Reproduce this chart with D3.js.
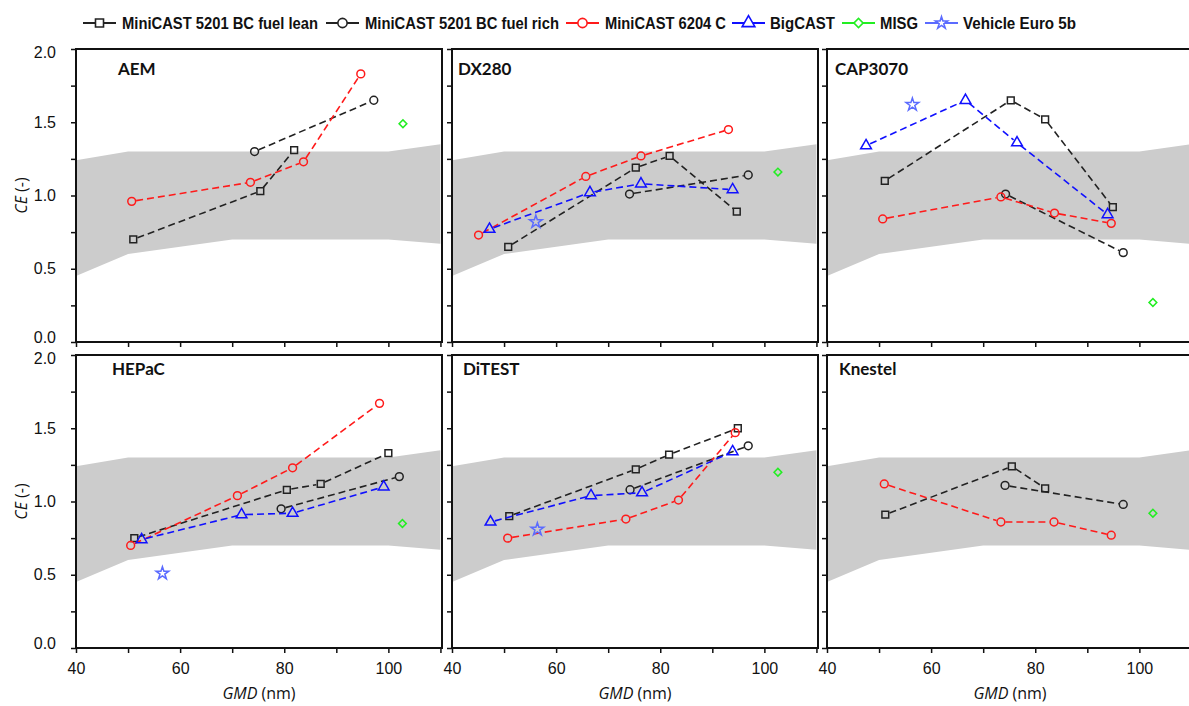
<!DOCTYPE html>
<html>
<head>
<meta charset="utf-8">
<script src="https://cdn.jsdelivr.net/npm/d3@7"></script>
<style>
  body { margin: 0; background: #fff; }
  svg { display: block; }
</style>
</head>
<body>
<div id="chart"></div>
<script>
// panels (instruments)
const panelNames = ["AEM", "DX280", "CAP3070", "HEPaC", "DiTEST", "Knestel"];

// GMD (nm) / CE (-) per panel
const leanX = [[51.0, 75.4, 81.9], [50.8, 75.3, 81.8, 94.7], [51.1, 75.3, 81.9, 94.9], [51.2, 80.5, 87.0, 100.0], [51.0, 75.3, 81.7, 94.9], [51.2, 75.5, 81.9]];
const leanY = [[0.70, 1.03, 1.31], [0.65, 1.19, 1.27, 0.89], [1.10, 1.65, 1.52, 0.92], [0.75, 1.08, 1.12, 1.33], [0.90, 1.22, 1.32, 1.50], [0.91, 1.24, 1.09]];

const richX = [[74.3, 97.2], [74.1, 96.9], [74.3, 96.9], [79.4, 102.1], [74.2, 96.9], [74.2, 96.9]];
const richY = [[1.30, 1.65], [1.01, 1.14], [1.01, 0.61], [0.95, 1.17], [1.08, 1.38], [1.11, 0.98]];

const c6204X = [[50.7, 73.5, 83.7, 94.7], [45.1, 65.7, 76.3, 93.1], [50.7, 73.4, 83.7, 94.6], [50.5, 71.0, 81.6, 98.3], [50.7, 73.4, 83.5, 94.4], [51.0, 73.4, 83.6, 94.6]];
const c6204Y = [[0.96, 1.09, 1.23, 1.83], [0.73, 1.13, 1.27, 1.45], [0.84, 0.99, 0.88, 0.81], [0.70, 1.04, 1.23, 1.67], [0.75, 0.88, 1.01, 1.47], [1.12, 0.86, 0.86, 0.77]];

const bigX = [[], [47.2, 66.5, 76.3, 93.9], [47.5, 66.6, 76.5, 93.9], [52.6, 71.8, 81.6, 99.1], [47.4, 66.7, 76.5, 93.9], []];
const bigY = [[], [0.77, 1.02, 1.08, 1.04], [1.34, 1.65, 1.36, 0.87], [0.74, 0.91, 0.92, 1.10], [0.86, 1.04, 1.06, 1.34], []];

const misgX = [[102.8], [102.6], [102.6], [102.7], [102.6], [102.6]];
const misgY = [[1.49], [1.16], [0.27], [0.85], [1.20], [0.92]];

const euroX = [[], [56.1], [56.4], [56.6], [56.4], []];
const euroY = [[], [0.82], [1.62], [0.51], [0.81], []];

// grey reference band
const bandX = [40, 50, 70, 100, 110];
const bandHi = [1.24, 1.30, 1.30, 1.30, 1.35];
const bandLo = [0.45, 0.60, 0.70, 0.70, 0.67];

const yTicks = [0, 0.25, 0.5, 0.75, 1, 1.25, 1.5, 1.75, 2];
const xTicks = [40, 50, 60, 70, 80, 90, 100, 110];

const series = [
  {name: "MiniCAST 5201 BC fuel lean", xs: leanX, ys: leanY, color: "#222", sym: d3.symbolSquare, size: 46, rot: 0, line: true},
  {name: "MiniCAST 5201 BC fuel rich", xs: richX, ys: richY, color: "#222", sym: d3.symbolCircle, size: 48, rot: 0, line: true},
  {name: "MiniCAST 6204 C", xs: c6204X, ys: c6204Y, color: "#ff1a1a", sym: d3.symbolCircle, size: 48, rot: 0, line: true},
  {name: "BigCAST", xs: bigX, ys: bigY, color: "#1010ff", sym: d3.symbolTriangle, size: 50, rot: 0, line: true},
  {name: "MISG", xs: misgX, ys: misgY, color: "#22ee22", sym: d3.symbolSquare, size: 30, rot: 45, line: false},
  {name: "Vehicle Euro 5b", xs: euroX, ys: euroY, color: "#5b6bff", sym: d3.symbolStar, size: 50, rot: 0, line: false}
];

const W = 1189, H = 706;
const colX = [76, 452, 827], rowY = [49, 355];
const pw = 366, ph = 293;

const svg = d3.select("#chart").append("svg")
  .attr("width", W).attr("height", H);

const x = d3.scaleLinear().domain([40, 110.3]).range([0, pw]);
const y = d3.scaleLinear().domain([0, 2]).range([ph, 0]);

const band = d3.area()
  .x((d, i) => x(bandX[i]))
  .y0((d, i) => y(bandLo[i]))
  .y1((d, i) => y(bandHi[i]));

panelNames.forEach((pname, p) => {
  const col = p % 3, row = Math.floor(p / 3);
  const g = svg.append("g")
    .attr("transform", `translate(${colX[col]},${rowY[row]})`);

  g.append("path")
    .datum(bandX)
    .attr("d", band)
    .attr("fill", "#cccccc");

  // axes
  const yAxis = d3.axisLeft(y).tickValues(yTicks).tickSize(5).tickPadding(15)
    .tickFormat(d => (col === 0 && (d * 4) % 2 === 0) ? d.toFixed(1) : "");
  const ya = g.append("g").call(yAxis);
  ya.select(".domain").remove();
  ya.selectAll("line").attr("stroke", "#111").attr("stroke-width", 1.5);
  ya.selectAll("text").style("font-family", "'Liberation Sans', Arial, sans-serif")
    .style("font-size", "16px").attr("fill", "#111")
    .attr("y", d => d === 0 ? -5 : (d === 2 ? 3 : 0));

  const xAxis = d3.axisBottom(x).tickValues(xTicks).tickSize(5).tickPadding(10)
    .tickFormat(d => (row === 1 && d % 20 === 0 && d <= 100) ? d : "");
  const xa = g.append("g").attr("transform", `translate(0,${ph})`).call(xAxis);
  xa.select(".domain").remove();
  xa.selectAll("line").attr("stroke", "#111").attr("stroke-width", 1.5);
  xa.selectAll("text").style("font-family", "'Liberation Sans', Arial, sans-serif")
    .style("font-size", "16px").attr("fill", "#111");

  g.append("rect")
    .attr("width", pw).attr("height", ph)
    .attr("fill", "none").attr("stroke", "#111").attr("stroke-width", 2);

  g.append("text")
    .attr("x", [42, 6, 8, 36, 11, 12][p])
    .attr("y", row === 0 ? 26 : 20)
    .style("font-family", "Lato, 'Open Sans', sans-serif")
    .style("font-weight", "bold").style("font-size", "17px")
    .attr("fill", "#111")
    .text(pname);

  // series
  series.forEach(s => {
    const pts = s.xs[p].map((v, i) => [x(v), y(s.ys[p][i])]);
    if (s.line) {
      const trim = 4.5;
      for (let i = 0; i < pts.length - 1; i++) {
        const [x1, y1] = pts[i], [x2, y2] = pts[i + 1];
        const len = Math.hypot(x2 - x1, y2 - y1);
        const ux = (x2 - x1) / len, uy = (y2 - y1) / len;
        g.append("line")
          .attr("x1", x1 + ux * trim).attr("y1", y1 + uy * trim)
          .attr("x2", x2 - ux * trim).attr("y2", y2 - uy * trim)
          .attr("stroke", s.color).attr("stroke-width", 1.6)
          .attr("stroke-dasharray", "7,4");
      }
    }
    g.selectAll(null)
      .data(pts)
      .enter().append("path")
      .attr("transform", d => `translate(${d[0]},${d[1]}) rotate(${s.rot})`)
      .attr("d", d3.symbol().type(s.sym).size(s.size))
      .attr("fill", "none")
      .attr("stroke", s.color)
      .attr("stroke-width", 1.5);
  });

  // axis titles
  if (col === 0) {
    const t = svg.append("text")
      .attr("transform", `translate(27,${rowY[row] + ph / 2}) rotate(-90)`)
      .attr("text-anchor", "middle")
      .style("font-family", "'Open Sans', sans-serif")
      .style("font-size", "16px").attr("fill", "#111");
    t.append("tspan").style("font-style", "italic").text("CE");
    t.append("tspan").text(" (-)");
  }
  if (row === 1) {
    const t = svg.append("text")
      .attr("x", colX[col] + 183).attr("y", 699)
      .attr("text-anchor", "middle")
      .style("font-family", "'Open Sans', sans-serif")
      .style("font-size", "16px").attr("fill", "#111");
    t.append("tspan").style("font-style", "italic").text("GMD");
    t.append("tspan").text(" (nm)");
  }
});

// legend
const legSymX = [83, 326, 566, 732, 842, 925];
const legTextX = [122, 365, 605, 770, 880, 963];
const legTextW = [196, 194, 121, 65, 38, 113];
const legend = svg.append("g");
series.forEach((s, i) => {
  const lg = legend.append("g").attr("transform", `translate(${legSymX[i]},23)`);
  lg.append("line").attr("x1", 0).attr("x2", 33)
    .attr("stroke", s.color).attr("stroke-width", 2.2);
  lg.append("path")
    .attr("transform", `translate(16.5,0) rotate(${s.rot})`)
    .attr("d", d3.symbol().type(s.sym).size(s.sym === d3.symbolStar ? 45 : s.size * 1.4))
    .attr("fill", "#fff").attr("stroke", s.color).attr("stroke-width", 1.6);
  legend.append("text")
    .attr("x", legTextX[i]).attr("y", 29)
    .attr("textLength", legTextW[i]).attr("lengthAdjust", "spacingAndGlyphs")
    .style("font-family", "'Liberation Sans', Arial, sans-serif")
    .style("font-weight", "bold").style("font-size", "17px")
    .attr("fill", "#111")
    .text(s.name);
});
</script>
</body>
</html>
